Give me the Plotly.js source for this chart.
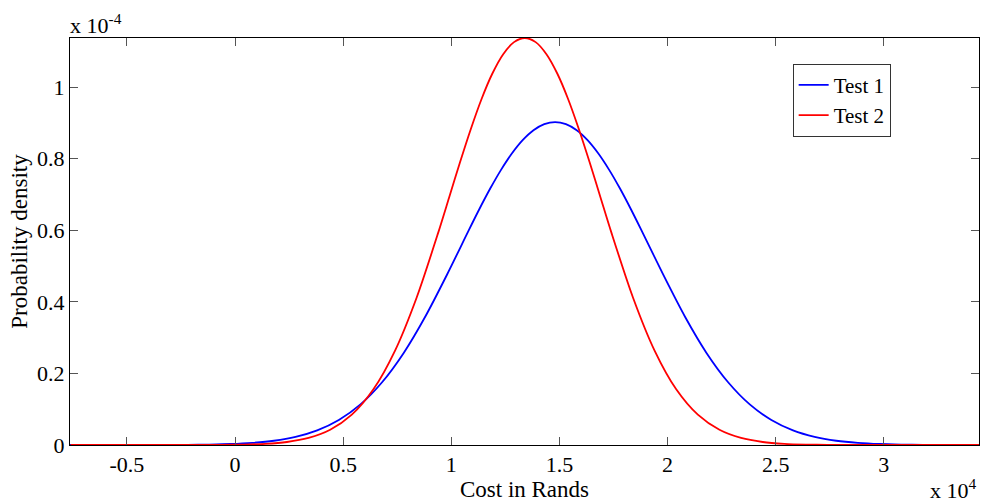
<!DOCTYPE html>
<html>
<head>
<meta charset="utf-8">
<script src="https://cdn.plot.ly/plotly-3.0.1.min.js"></script>
<style>html,body{margin:0;padding:0;background:#fff;}#chart{width:982px;height:504px;}</style>
</head>
<body>
<div id="chart"></div>
<script>
// Cost in Rands (x 10^4)
const costTest1 = [-0.82,-0.72,-0.62,-0.52,-0.42,-0.32,-0.22,-0.12,-0.02,0.08,0.18,0.28,0.38,0.48,0.58,0.68,0.78,0.88,0.98,1.08,1.13,1.18,1.23,1.28,1.33,1.38,1.43,1.48,1.53,1.58,1.63,1.68,1.73,1.78,1.83,1.88,1.98,2.08,2.18,2.28,2.38,2.48,2.58,2.68,2.78,2.88,2.98,3.08,3.18,3.28,3.38,3.48];
// Probability density (x 10^-4)
const densityTest1 = [0,0,0.00001,0.00004,0.0001,0.0002,0.0006,0.0013,0.0028,0.006,0.0119,0.0226,0.0408,0.0698,0.1135,0.1754,0.2573,0.359,0.4757,0.5989,0.6593,0.7164,0.7686,0.8142,0.8515,0.8792,0.8962,0.902,0.8962,0.8792,0.8515,0.8142,0.7686,0.7164,0.6593,0.5989,0.4757,0.359,0.2573,0.1754,0.1135,0.0698,0.0408,0.0226,0.0119,0.006,0.0028,0.0013,0.0006,0.0002,0.0001,0.00004];

const costTest2 = [-0.76,-0.66,-0.56,-0.46,-0.36,-0.26,-0.16,-0.06,0.04,0.14,0.24,0.34,0.44,0.54,0.64,0.74,0.84,0.94,0.99,1.04,1.09,1.14,1.19,1.24,1.29,1.34,1.39,1.44,1.49,1.54,1.59,1.64,1.69,1.74,1.84,1.94,2.04,2.14,2.24,2.34,2.44,2.54,2.64,2.74,2.84,2.94,3.04,3.14,3.24,3.34,3.44];
const densityTest2 = [0,0,0,0,0,0.00003,0.0001,0.0004,0.0012,0.0033,0.0084,0.0197,0.0425,0.0847,0.1556,0.2638,0.4122,0.594,0.6916,0.7891,0.8822,0.9667,1.0378,1.0918,1.1255,1.137,1.1255,1.0918,1.0378,0.9667,0.8822,0.7891,0.6916,0.594,0.4122,0.2638,0.1556,0.0847,0.0425,0.0197,0.0084,0.0033,0.0012,0.0004,0.0001,0.00003,0,0,0,0,0];

const seriesNames = ['Test 1','Test 2'];
const xTickVals = [-0.5,0,0.5,1,1.5,2,2.5,3];
const xTickText = ['-0.5','0','0.5','1','1.5','2','2.5','3'];
const yTickVals = [0,0.2,0.4,0.6,0.8,1];
const yTickText = ['0','0.2','0.4','0.6','0.8','1'];

const serif = 'Liberation Serif, Times New Roman, serif';

const traces = [
  {x: costTest1, y: densityTest1, name: seriesNames[0], type: 'scatter', mode: 'lines',
   line: {color: '#0000ff', width: 1.8, shape: 'spline', smoothing: 0.8}},
  {x: costTest2, y: densityTest2, name: seriesNames[1], type: 'scatter', mode: 'lines',
   line: {color: '#ff0000', width: 1.8, shape: 'spline', smoothing: 0.8}}
];

const axisCommon = {
  showgrid: false, zeroline: false, showline: true, linecolor: '#000', linewidth: 1,
  mirror: 'ticks', ticks: 'inside', ticklen: 8, tickcolor: '#555', tickwidth: 1,
  tickfont: {family: serif, size: 22, color: '#000'}
};

const layout = {
  width: 982, height: 504,
  margin: {l: 70, r: 3, t: 38, b: 59},
  paper_bgcolor: '#fff', plot_bgcolor: '#fff',
  showlegend: true,
  legend: {x: 0.795, y: 0.937, xanchor: 'left', yanchor: 'top',
    bgcolor: '#fff', bordercolor: '#333', borderwidth: 1,
    font: {family: serif, size: 21, color: '#000'}, tracegroupgap: 0, itemwidth: 30},
  xaxis: Object.assign({}, axisCommon, {
    range: [-0.763, 3.44], tickmode: 'array', tickvals: xTickVals, ticktext: xTickText,
    title: {text: 'Cost in Rands', font: {family: serif, size: 23, color: '#000'}, standoff: 0}
  }),
  yaxis: Object.assign({}, axisCommon, {
    range: [0, 1.137], tickmode: 'array', tickvals: yTickVals, ticktext: yTickText,
    title: {text: 'Probability density', font: {family: serif, size: 23, color: '#000'}, standoff: 3}
  }),
  annotations: [
    {text: 'x 10<sup>-4</sup>', xref: 'paper', yref: 'paper', x: 0, y: 1, xanchor: 'left', yanchor: 'bottom',
     showarrow: false, font: {family: serif, size: 22, color: '#000'}, xshift: -2, yshift: -2},
    {text: 'x 10<sup>4</sup>', xref: 'paper', yref: 'paper', x: 1, y: 0, xanchor: 'right', yanchor: 'top',
     showarrow: false, font: {family: serif, size: 22, color: '#000'}, yshift: -28}
  ]
};

Plotly.newPlot('chart', traces, layout, {staticPlot: true, displayModeBar: false});
</script>
</body>
</html>
